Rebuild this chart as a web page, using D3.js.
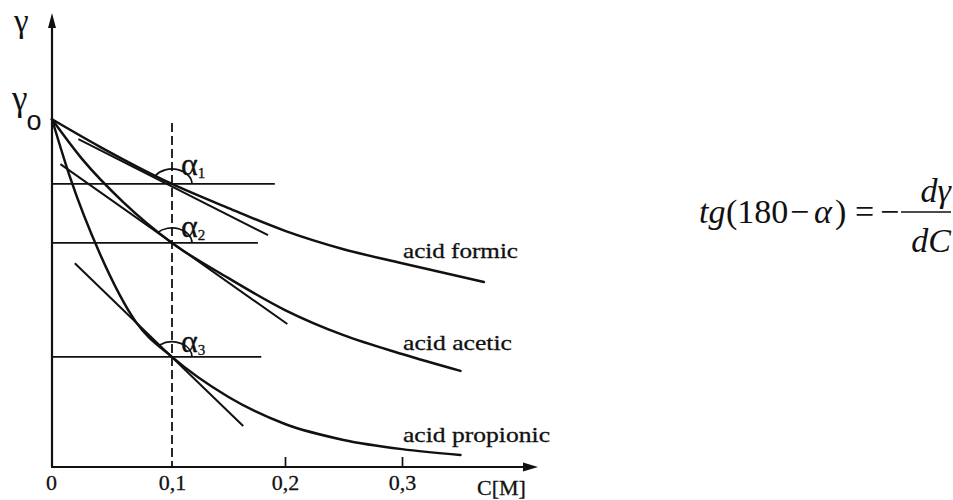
<!DOCTYPE html>
<html>
<head>
<meta charset="utf-8">
<script src="https://cdn.jsdelivr.net/npm/d3@7"></script>
<style>
  body { margin: 0; background: #fff; }
  svg { display: block; }
  text { font-family: "Liberation Serif", "DejaVu Serif", serif; fill: #111; }
  .heavy { stroke: #111; stroke-width: 0.3px; }
</style>
</head>
<body>
<svg id="chart"></svg>
<script>
// surface tension vs concentration (arbitrary gamma units)
const formicC = [0, 0.04, 0.1, 0.15, 0.2, 0.25, 0.3, 0.37];
const formicGamma = [72, 66.3, 58.6, 53.6, 48.9, 45.1, 42.2, 38.3];
const aceticC = [0, 0.025, 0.06, 0.1, 0.15, 0.2, 0.25, 0.3, 0.35];
const aceticGamma = [72, 63.8, 54.7, 46.4, 39.1, 32.5, 27.3, 23.4, 19.9];
const propionicC = [0, 0.015, 0.04, 0.07, 0.1, 0.15, 0.2, 0.25, 0.3, 0.35];
const propionicGamma = [72, 60.0, 44.1, 30.0, 22.8, 14.5, 8.9, 5.6, 3.7, 2.5];
const curveNames = ["acid formic", "acid acetic", "acid propionic"];

// tangents at C = 0.1 (start / end)
const tangentC = [[0.022, 0.185], [0.007, 0.202], [0.019, 0.163]];
const tangentGamma = [[67.9, 48.0], [62.7, 29.6], [42.2, 8.5]];
const horizEndC = [0.191, 0.176, 0.179];
const tangentAt = 0.1;
const dashTopGamma = 71.2;

const xTicks = [0, 0.1, 0.2, 0.3];
const xTickLabels = ["0", "0,1", "0,2", "0,3"];

const W = 953, H = 500;
const INK = "#111";
const SERIF = "'Liberation Serif', 'DejaVu Serif', serif";

const svg = d3.select("#chart").attr("width", W).attr("height", H);
svg.append("rect").attr("width", W).attr("height", H).attr("fill", "#fff");

// the drawing is hand made, spacing between ticks is not quite even
const x = d3.scaleLinear().domain(xTicks).range([52, 172, 285, 402]);
const y = d3.scaleLinear().domain([0, 94]).range([467, 13]);

const curves = [
  { c: formicC, g: formicGamma },
  { c: aceticC, g: aceticGamma },
  { c: propionicC, g: propionicGamma }
].map((d, i) => ({
  name: curveNames[i],
  pts: d.c.map((c, j) => [c, d.g[j]])
}));

const line = d3.line()
  .x(d => x(d[0]))
  .y(d => y(d[1]))
  .curve(d3.curveMonotoneX);

// axes
const x0 = x(0), yBase = y(0), yTop = y.range()[1];
const xEnd = 538;
svg.append("line")
  .attr("x1", x0).attr("x2", x0).attr("y1", yBase).attr("y2", yTop + 10)
  .attr("stroke", INK).attr("stroke-width", 2.2);
svg.append("path")
  .attr("d", `M${x0},${yTop} L${x0 - 4},${yTop + 15} L${x0 + 4},${yTop + 15} Z`)
  .attr("fill", INK);
svg.append("line")
  .attr("x1", x0 - 1).attr("x2", xEnd - 10).attr("y1", yBase).attr("y2", yBase)
  .attr("stroke", INK).attr("stroke-width", 2.2);
svg.append("path")
  .attr("d", `M${xEnd},${yBase} L${xEnd - 15},${yBase - 4.5} L${xEnd - 15},${yBase + 4.5} Z`)
  .attr("fill", INK);

const xAxis = d3.axisBottom(x)
  .tickValues(xTicks)
  .tickFormat((d, i) => xTickLabels[i])
  .tickSizeInner(-10)
  .tickSizeOuter(0);
const gx = svg.append("g").attr("transform", `translate(0,${yBase})`).call(xAxis);
gx.select(".domain").remove();
gx.selectAll(".tick line")
  .attr("stroke", INK).attr("stroke-width", 1.7)
  .attr("opacity", d => d >= 0.2 ? 1 : 0);
gx.selectAll(".tick text")
  .attr("y", 23).attr("dy", 0)
  .attr("fill", INK)
  .attr("class", "heavy")
  .style("font-family", SERIF)
  .style("font-size", "22px");
gx.selectAll(".tick").filter(d => d === 0).select("text").attr("dx", -1);

svg.append("text")
  .attr("class", "heavy")
  .attr("x", 477).attr("y", 495)
  .style("font-family", SERIF)
  .style("font-size", "22px")
  .text("C[M]");

// gamma labels
svg.append("text")
  .attr("x", 14).attr("y", 32)
  .style("font-family", SERIF)
  .style("font-size", "33px")
  .attr("fill", "#17223f")
  .text("γ");
const g0 = svg.append("text")
  .attr("x", 12).attr("y", 110)
  .style("font-family", SERIF)
  .style("font-size", "35px")
  .attr("fill", "#17223f");
g0.append("tspan").text("γ");
g0.append("tspan").attr("dx", -1).attr("dy", 20)
  .style("font-family", "'Liberation Sans', sans-serif")
  .style("font-size", "27px").text("o");

// dashed line at C = 0.1
svg.append("line")
  .attr("x1", x(tangentAt)).attr("x2", x(tangentAt))
  .attr("y1", y(dashTopGamma)).attr("y2", yBase)
  .attr("stroke", INK).attr("stroke-width", 1.8)
  .attr("stroke-dasharray", "9,4");

// horizontal reference lines through the tangent points
const hitGamma = curves.map(cv => cv.pts.find(d => d[0] === tangentAt)[1]);
svg.append("g").selectAll("line")
  .data(hitGamma)
  .join("line")
  .attr("x1", x0).attr("x2", (d, i) => x(horizEndC[i]))
  .attr("y1", d => y(d)).attr("y2", d => y(d))
  .attr("stroke", INK).attr("stroke-width", 1.8);

// tangents
svg.append("g").selectAll("path")
  .data(tangentC.map((c, i) => [[c[0], tangentGamma[i][0]], [c[1], tangentGamma[i][1]]]))
  .join("path")
  .attr("d", d3.line().x(d => x(d[0])).y(d => y(d[1])))
  .attr("fill", "none")
  .attr("stroke", INK).attr("stroke-width", 2);

// curves
svg.append("g").selectAll("path")
  .data(curves)
  .join("path")
  .attr("d", d => line(d.pts))
  .attr("fill", "none")
  .attr("stroke", INK).attr("stroke-width", 2.5)
  .attr("stroke-linecap", "round");

// curve labels
const labelDy = [-24, -21, -13];
const labelLen = [115, 109, 147];
svg.append("g").selectAll("text")
  .data(curves)
  .join("text")
  .attr("class", "heavy")
  .attr("x", x(0.3) + 1)
  .attr("y", (d, i) => y(d.pts[d.pts.length - 1][1]) + labelDy[i])
  .attr("textLength", (d, i) => labelLen[i])
  .attr("lengthAdjust", "spacingAndGlyphs")
  .style("font-family", SERIF)
  .style("font-size", "21px")
  .text(d => d.name);

// angle arcs and alpha labels
const rx = 20, ry = 15;
const cx = x(tangentAt);
hitGamma.forEach((gm, i) => {
  const cy = y(gm);
  const x1 = x(tangentC[i][0]), y1 = y(tangentGamma[i][0]);
  const x2 = x(tangentC[i][1]), y2 = y(tangentGamma[i][1]);
  let dx = x1 - x2, dy = y1 - y2; // pointing up-left
  const len = Math.hypot(dx, dy);
  dx /= len; dy /= len;
  const r = 1 / Math.sqrt((dx / rx) ** 2 + (dy / ry) ** 2);
  const ex = cx + dx * r, ey = cy + dy * r;
  svg.append("path")
    .attr("d", `M${cx + rx},${cy} A${rx},${ry} 0 0 0 ${ex},${ey}`)
    .attr("fill", "none")
    .attr("stroke", INK).attr("stroke-width", 1.7);

  const lab = svg.append("text")
    .attr("class", "heavy")
    .attr("x", cx + 9).attr("y", cy + [-9, -6, -5][i])
    .style("font-family", SERIF)
    .style("font-size", "32px");
  lab.append("tspan").text("α");
  lab.append("tspan").attr("dy", 3).style("font-size", "15px").text(String(i + 1));
});

// formula
const fy = 223;
const f = svg.append("g");
function ftext(tx, ty, s, italic, anchor) {
  return f.append("text")
    .attr("x", tx).attr("y", ty)
    .attr("text-anchor", anchor || "start")
    .style("font-family", SERIF)
    .style("font-size", "34px")
    .style("font-style", italic ? "italic" : "normal")
    .text(s);
}
ftext(699, fy, "tg", true);
ftext(726, fy, "(180", false);
ftext(790, fy, "−", false);
ftext(814, fy, "α", true);
ftext(835, fy, ")", false);
ftext(855, fy, "=", false);
ftext(880, fy, "−", false);
f.append("line").attr("x1", 901).attr("x2", 951).attr("y1", 212).attr("y2", 212)
  .attr("stroke", INK).attr("stroke-width", 1.6);
ftext(951, 202, "dγ", true, "end");
ftext(951, 252, "dC", true, "end");
</script>
</body>
</html>
